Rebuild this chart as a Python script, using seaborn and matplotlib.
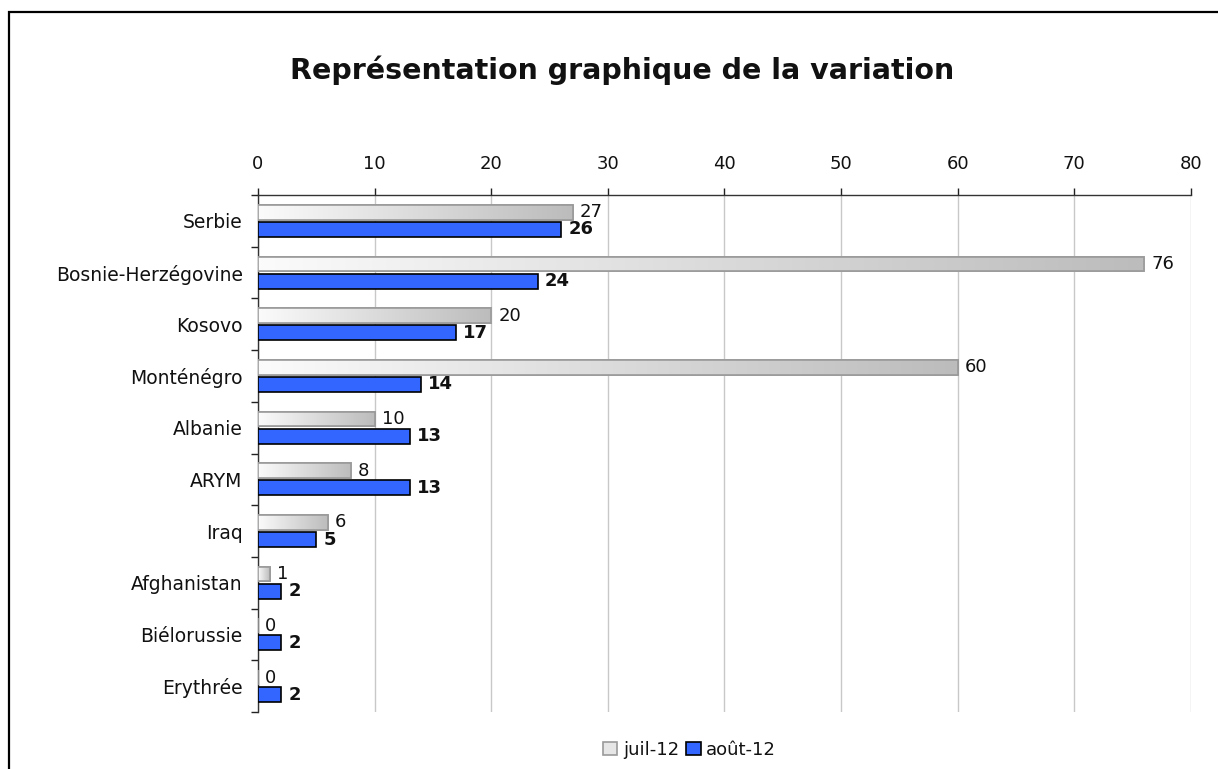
import numpy as np
import pandas as pd
import matplotlib
matplotlib.use("Agg")
import matplotlib.pyplot as plt
from matplotlib.colors import LinearSegmentedColormap
from matplotlib.patches import Rectangle
import seaborn as sns

countries = ["Serbie", "Bosnie-Herzégovine", "Kosovo", "Monténégro", "Albanie",
             "ARYM", "Iraq", "Afghanistan", "Biélorussie", "Erythrée"]
juil = [27, 76, 20, 60, 10, 8, 6, 1, 0, 0]
aout = [26, 24, 17, 14, 13, 13, 5, 2, 2, 2]
series = ["juil-12", "août-12"]

df = pd.DataFrame({
    "pays": countries * 2,
    "valeur": juil + aout,
    "mois": [series[0]] * len(countries) + [series[1]] * len(countries),
})

sns.set_style("white")
plt.rcParams["font.family"] = ["DejaVu Sans"]

fig = plt.figure(figsize=(12.18, 7.69), dpi=100)
ax = fig.add_axes([0.2118, 0.0741, 0.7660, 0.6723])

sns.barplot(data=df, y="pays", x="valeur", hue="mois", orient="h",
            palette=["#d0d0d0", "#3366ff"], saturation=1, width=0.62, ax=ax,
            legend=True, errorbar=None, linewidth=1.2, edgecolor="black", zorder=3)

gray_bars = ax.containers[0]
blue_bars = ax.containers[1]

# gradient on the july bars
cmap = LinearSegmentedColormap.from_list("g", ["#fbfbfb", "#bcbcbc"])
grad = np.linspace(0, 1, 256).reshape(1, -1)
for p in gray_bars:
    p.set_edgecolor("#9a9a9a")
    x0, y0 = p.get_x(), p.get_y()
    w, h = p.get_width(), p.get_height()
    p.set_height(h * 0.92)
    if w > 0:
        im = ax.imshow(grad, extent=[x0, x0 + w, y0 + h * 0.92, y0], aspect="auto",
                       cmap=cmap, zorder=3.5)
        im.set_clip_path(p)
        edge = Rectangle((x0, y0), w, h * 0.92, fill=False, edgecolor="#9a9a9a",
                         linewidth=1.2, zorder=3.6)
        ax.add_patch(edge)
for p in blue_bars:
    y0, h = p.get_y(), p.get_height()
    p.set_y(y0 + h * 0.06)
    p.set_height(h * 0.94)
    p.set_zorder(4)

ax.bar_label(gray_bars, labels=[str(v) for v in juil], padding=5, fontsize=13,
             color="#111111", zorder=6)
ax.bar_label(blue_bars, labels=[str(v) for v in aout], padding=5, fontsize=13,
             fontweight="bold", color="#111111", zorder=6)

ax.set_xlim(0, 80)
ax.set_ylim(9.5, -0.5)
ax.set_xticks(range(0, 81, 10))
ax.xaxis.tick_top()
ax.tick_params(axis="x", which="major", length=5, width=1, color="#222222",
               labelsize=13, labelcolor="#111111", pad=11, direction="out",
               top=True, bottom=False)
ax.set_yticks(range(len(countries)))
ax.set_yticklabels(countries)
ax.set_yticks(np.arange(-0.5, len(countries)), minor=True)
ax.tick_params(axis="y", which="major", length=0, labelsize=13.5,
               labelcolor="#111111", pad=11)
ax.tick_params(axis="y", which="minor", length=5, width=1, color="#222222",
               direction="out", left=True)
ax.grid(axis="x", color="#c8c8c8", linewidth=1, zorder=0)
ax.set_axisbelow(True)
ax.set_xlabel("")
ax.set_ylabel("")
for side in ["right", "bottom"]:
    ax.spines[side].set_visible(False)
for side in ["top", "left"]:
    ax.spines[side].set_color("#333333")
    ax.spines[side].set_linewidth(1)

leg = ax.get_legend()
if leg is not None:
    leg.remove()
handles = [Rectangle((0, 0), 1, 1, facecolor="#e6e6e6", edgecolor="#9a9a9a", linewidth=1.2),
           Rectangle((0, 0), 1, 1, facecolor="#3366ff", edgecolor="black", linewidth=1.2)]
fig.legend(handles, series, loc="center", bbox_to_anchor=(0.566, 0.025), ncol=2,
           frameon=False, fontsize=13, handlelength=0.8, handleheight=0.8,
           handletextpad=0.3, columnspacing=0.4, labelcolor="#111111")

fig.text(0.511, 0.909, "Représentation graphique de la variation", ha="center",
         va="center", fontsize=20.5, fontweight="bold", color="#111111")

fig.patches.append(Rectangle((9 / 1218, -0.1), 1.2, 1.1 - 12 / 769,
                             transform=fig.transFigure, fill=False,
                             edgecolor="black", linewidth=1.6))

fig.savefig("out.png", dpi=100)
